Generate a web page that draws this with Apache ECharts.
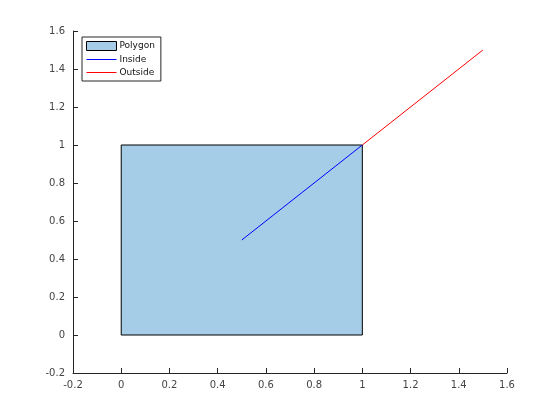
<!DOCTYPE html>
<html><head><meta charset="utf-8">
<script src="https://cdn.jsdelivr.net/npm/echarts@6/dist/echarts.min.js"></script>
<style>html,body{margin:0;padding:0;background:#fff}#c{width:560px;height:420px}</style>
</head><body><div id="c"></div>
<script>
var polygonX = [0, 1, 1, 0];
var polygonY = [0, 0, 1, 1];
var insideX = [0.5, 1];
var insideY = [0.5, 1];
var outsideX = [1, 1.5];
var outsideY = [1, 1.5];
var seriesNames = ['Polygon', 'Inside', 'Outside'];

var polyData = polygonX.map(function (x, i) { return [x, polygonY[i]]; });
var inData = insideX.map(function (x, i) { return [x, insideY[i]]; });
var outData = outsideX.map(function (x, i) { return [x, outsideY[i]]; });

var axisCol = '#262626';
var lineIcon = 'path://M0,0H30V1H0Z';
var fmt = function (v) { return String(Math.round(v * 10) / 10); };
var chart = echarts.init(document.getElementById('c'), null, {renderer: 'canvas'});
chart.setOption({
  animation: false,
  grid: {left: 73, right: 53, top: 31, bottom: 47},
  xAxis: {
    type: 'value', min: -0.2, max: 1.6, interval: 0.2,
    axisLine: {show: true, onZero: false, lineStyle: {color: axisCol, width: 1}},
    axisTick: {show: true, inside: true, length: 5, lineStyle: {color: axisCol}},
    axisLabel: {color: '#444', fontSize: 10, fontFamily: 'DejaVu Sans', margin: 7, formatter: fmt},
    splitLine: {show: false}
  },
  yAxis: {
    type: 'value', min: -0.2, max: 1.6, interval: 0.2,
    axisLine: {show: true, onZero: false, lineStyle: {color: axisCol, width: 1}},
    axisTick: {show: true, inside: true, length: 5, lineStyle: {color: axisCol}},
    axisLabel: {color: '#444', fontSize: 10, fontFamily: 'DejaVu Sans', margin: 8, formatter: fmt},
    splitLine: {show: false}
  },
  legend: {
    orient: 'vertical', left: 82, top: 37,
    backgroundColor: '#fff', borderColor: axisCol, borderWidth: 1,
    padding: [4, 6, 4, 4], itemGap: 4, itemWidth: 30, itemHeight: 9,
    symbolKeepAspect: true,
    textStyle: {fontSize: 9, color: '#111', fontFamily: 'DejaVu Sans', padding: [0, 0, 0, -2]},
    data: [
      {name: seriesNames[0], icon: 'rect', itemStyle: {color: '#a6cde8', borderColor: '#000', borderWidth: 1}},
      {name: seriesNames[1], icon: lineIcon, itemStyle: {color: '#0000ff', borderWidth: 0}},
      {name: seriesNames[2], icon: lineIcon, itemStyle: {color: '#ff0000', borderWidth: 0}}
    ]
  },
  series: [
    {
      name: seriesNames[0], type: 'custom', data: polyData,
      itemStyle: {color: '#a6cde8', borderColor: '#000', borderWidth: 1},
      renderItem: function (params, api) {
        if (params.dataIndex !== 0) return null;
        var pts = polyData.map(function (p) { return api.coord(p); });
        return {type: 'polygon', shape: {points: pts},
          style: {fill: '#a6cde8', stroke: '#000', lineWidth: 1}};
      },
      encode: {x: 0, y: 1}
    },
    {
      name: seriesNames[1], type: 'line', data: inData, symbol: 'none', showSymbol: false,
      lineStyle: {color: '#0000ff', width: 1}, itemStyle: {color: '#0000ff'}, z: 3
    },
    {
      name: seriesNames[2], type: 'line', data: outData, symbol: 'none', showSymbol: false,
      lineStyle: {color: '#ff0000', width: 1}, itemStyle: {color: '#ff0000'}, z: 3
    }
  ]
});
</script></body></html>
